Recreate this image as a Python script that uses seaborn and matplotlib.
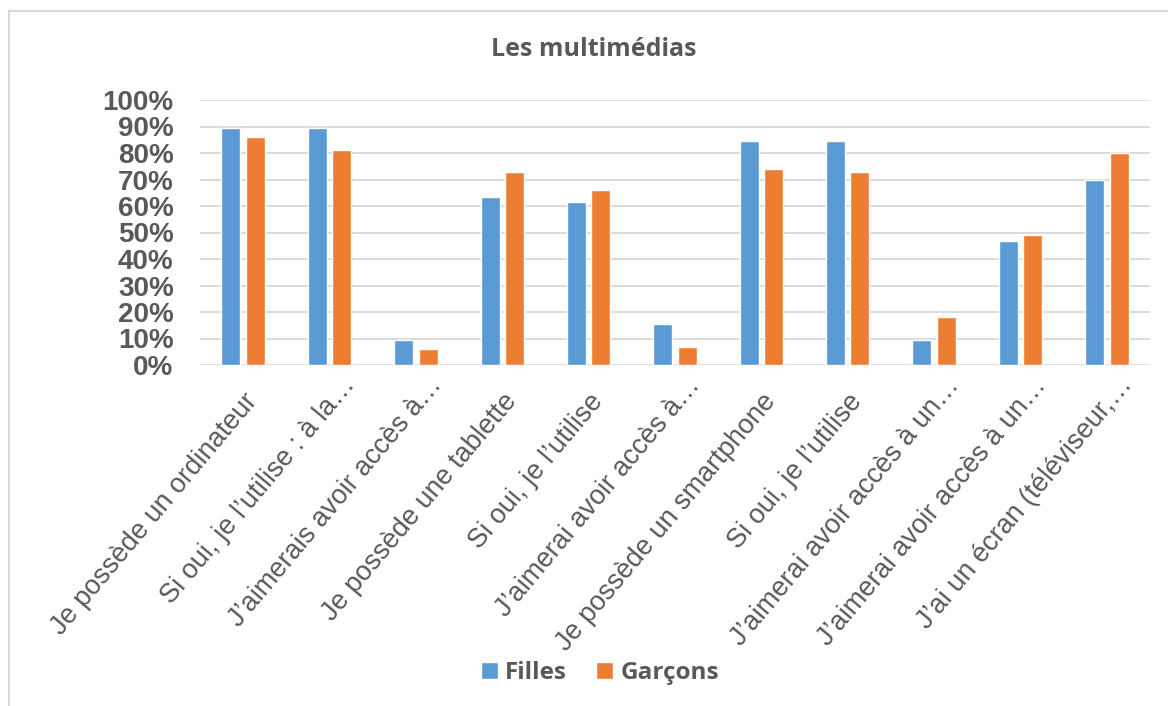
import pandas as pd
import seaborn as sns
import matplotlib.pyplot as plt
from matplotlib.lines import Line2D
from matplotlib.ticker import FuncFormatter
from matplotlib.transforms import ScaledTranslation

# donnees (en %)
questions = [
    "Je possède un ordinateur",
    "Si oui, je l’utilise : à la…",
    "J’aimerais avoir accès à…",
    "Je possède une tablette",
    "Si oui, je l’utilise",
    "J’aimerai avoir accès à…",
    "Je possède un smartphone",
    "Si oui, je l’utilise",
    "J’aimerai avoir accès à un…",
    "J’aimerai avoir accès à un…",
    "J’ai un écran (téléviseur,…",
]
filles = [89.5, 89.5, 9.3, 63.4, 61.4, 15.5, 84.4, 84.4, 9.3, 46.8, 69.8]
garcons = [86, 81, 5.9, 73, 66, 6.8, 74, 73, 18, 48.9, 80]
groupes = ["Filles", "Garçons"]
couleurs = ["#5B9BD5", "#ED7D31"]

gris = "#595959"

df = pd.DataFrame({
    "q": list(range(len(questions))) * 2,
    "valeur": filles + garcons,
    "groupe": [groupes[0]] * len(filles) + [groupes[1]] * len(garcons),
})

sns.set_style("white")
fig = plt.figure(figsize=(11.68, 7.06), dpi=100)
ax = fig.add_axes([200 / 1168, 1 - 365 / 706, 950 / 1168, 265 / 706])

sns.barplot(data=df, x="q", y="valeur", hue="groupe", palette=couleurs,
            width=0.565, gap=0.22, saturation=1, ax=ax, errorbar=None)

ax.set_ylim(0, 100)
ax.set_xlim(-0.5, len(questions) - 0.5)
ax.set_yticks(range(0, 101, 10))
ax.yaxis.set_major_formatter(FuncFormatter(lambda v, p: f"{v:.0f}%"))
ax.grid(axis="y", color="#D9D9D9", lw=1.3)
ax.set_axisbelow(True)
sns.despine(ax=ax, left=True, bottom=True)
ax.set_xlabel("")
ax.set_ylabel("")

for lbl in ax.get_yticklabels():
    lbl.set_fontfamily("Liberation Sans")
    lbl.set_fontweight("bold")
    lbl.set_fontsize(20)
    lbl.set_color(gris)
ax.tick_params(axis="y", length=0, pad=19)

ax.set_xticks(range(len(questions)))
ax.set_xticklabels(questions, rotation=50, ha="right", va="top",
                   rotation_mode="anchor", fontsize=19.5, color=gris,
                   fontfamily="Liberation Sans")
ax.tick_params(axis="x", length=0, pad=17)
for lbl in ax.get_xticklabels():
    if lbl.get_text().endswith("…"):
        lbl.set_transform(lbl.get_transform()
                          + ScaledTranslation(0.11, 0.16, fig.dpi_scale_trans))

# legende en bas
handles, labels = ax.get_legend_handles_labels()
ax.get_legend().remove()
fig.legend(handles, labels, loc="center", bbox_to_anchor=(600 / 1168, 1 - 673 / 706),
           ncol=2, frameon=False, handlelength=0.7, handleheight=0.7,
           handletextpad=0.3, columnspacing=1.2,
           prop={"family": "Open Sans", "weight": "bold", "size": 17.5},
           labelcolor=gris)

fig.text(594 / 1168, 1 - 50 / 706, "Les multimédias", ha="center", va="center",
         fontfamily="Open Sans", fontweight="bold", fontsize=18, color=gris)

# cadre du graphique
fig.add_artist(Line2D([9 / 1168, 1], [1 - 11 / 706] * 2, transform=fig.transFigure,
                      color="#D9D9D9", lw=1.5))
fig.add_artist(Line2D([9 / 1168] * 2, [0, 1 - 11 / 706], transform=fig.transFigure,
                      color="#D9D9D9", lw=1.5))

fig.savefig("out.png", dpi=100)
